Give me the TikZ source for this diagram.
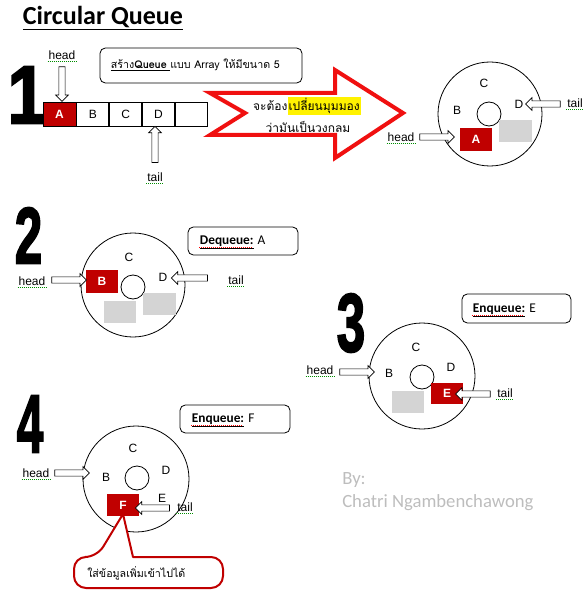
\documentclass[tikz,border=0pt]{standalone}
\usepackage{fontspec}
\usepackage{graphicx}
\setmainfont{Liberation Sans}
\newfontfamily\thaifont[Script=Thai]{Loma}
\newfontfamily\calfont{Carlito}
\newfontfamily\bignum[UprightFont={* Bold}, FakeBold=2.5]{Liberation Sans}
\usetikzlibrary{shapes.arrows}
\definecolor{dred}{HTML}{C00000}
\definecolor{slotgray}{HTML}{D4D4D4}
\definecolor{bygray}{HTML}{BDBDBD}
\definecolor{bigred}{HTML}{F01010}
\tikzset{
  lbl/.style={font=\fontsize{9}{10}\selectfont, inner sep=0.5pt},
  hollow/.style={single arrow, draw, fill=white, line width=0.5pt, inner sep=2.1pt,
    single arrow head extend=2.4pt, single arrow head indent=0pt, minimum height=#1},
  ring/.style={circle, draw, line width=0.6pt, minimum size=#1, inner sep=0pt},
  slot/.style={rectangle, fill=dred, text=white, font=\bfseries\fontsize{9}{10}\selectfont,
    minimum width=24pt, minimum height=17pt, inner sep=0pt},
  freeslot/.style={rectangle, fill=slotgray, minimum width=24.5pt, minimum height=16.5pt, inner sep=0pt},
  cell/.style={rectangle, draw, line width=0.6pt, minimum width=24pt, minimum height=18pt, inner sep=0pt,
    font=\fontsize{9}{10}\selectfont},
  note/.style={rectangle, draw, rounded corners=4pt, line width=0.6pt, inner sep=0pt},
  notetext/.style={font=\calfont\fontsize{10}{12}\selectfont, inner sep=0.5pt, anchor=base west},
  bignumber/.style={inner sep=0pt},
  sqg/.style={densely dotted, line width=0.5pt, green!55!black},
  sqr/.style={densely dotted, line width=0.5pt, red},
}
\begin{document}
\begin{tikzpicture}[x=0.75pt,y=-0.75pt]
\useasboundingbox (0,0) rectangle (588,599);

% title
\node[inner sep=0pt, font=\calfont\bfseries\fontsize{19.5}{22}\selectfont] (title) at (103,18) {\underline{Circular Queue}};

% big numbers
\node[bignumber] (n1) at (27,95) {\scalebox{0.85}[1]{\bignum\fontsize{62}{62}\selectfont 1}};
\node[bignumber] (n2) at (28.5,235.5) {\scalebox{0.62}[1]{\bignum\fontsize{60}{60}\selectfont 2}};
\node[bignumber] (n3) at (351,323) {\scalebox{0.62}[1]{\bignum\fontsize{62}{62}\selectfont 3}};
\node[bignumber] (n4) at (30,424) {\scalebox{0.58}[1]{\bignum\fontsize{62}{62}\selectfont 4}};

% ===== Panel 1: array =====
\node[cell, fill=dred, text=white, font=\bfseries\fontsize{9}{10}\selectfont, minimum width=24.75pt] (ca) at (59.5,114) {A};
\node[cell, anchor=west] (cb) at (ca.east) {B};
\node[cell, anchor=west] (cc) at (cb.east) {C};
\node[cell, anchor=west] (cd) at (cc.east) {D};
\node[cell, anchor=west] (ce) at (cd.east) {};

\node[hollow=26pt, shape border rotate=270] (ah1) at (62,82.5) {};
\node[lbl] (h1) at (62,55) {head};
\node[hollow=27pt, shape border rotate=90] (at1) at (155,146) {};
\node[lbl] (t1) at (155,177) {tail};

\node[note, minimum width=151.5pt, minimum height=26.25pt] (box1) at (201,65.5) {};
\node[inner sep=0.5pt, anchor=west, font=\thaifont\fontsize{8}{10}\selectfont] (box1t) at (110,65) {\underline{สร้าง\textbf{Queue} }แบบ Array ให้มีขนาด 5};

% big red arrow
\coordinate (ra1) at (210,93);
\coordinate (ra2) at (335,93);
\coordinate (ra3) at (335,70);
\coordinate (ra4) at (403,113);
\coordinate (ra5) at (335,158);
\coordinate (ra6) at (335,135);
\coordinate (ra7) at (210,135);
\coordinate (ra8) at (245,113);
\draw[bigred, line width=3pt, fill=white, miter limit=10] (ra1) -- (ra2) -- (ra3) -- (ra4) -- (ra5) -- (ra6) -- (ra7) -- (ra8) -- cycle;
\node[inner sep=0pt, font=\thaifont\fontsize{9}{11}\selectfont] (rat1) at (307,106) {จะต้อง{\setlength{\fboxsep}{0.8pt}\colorbox{yellow}{เปลี่ยนมุมมอง}}};
\node[inner sep=0pt, font=\thaifont\fontsize{9}{11}\selectfont] (rat2) at (308,127) {ว่ามันเป็นวงกลม};

% circle 1
\node[ring=78pt] (c1) at (490,114) {};
\node[ring=18pt] (c1i) at (489,114) {};
\node[lbl] (c1C) at (484,83) {C};
\node[lbl] (c1B) at (457,110) {B};
\node[lbl] (c1D) at (519,104) {D};
\node[slot] (c1A) at (476,139.5) {A};
\node[freeslot, minimum height=16.5pt] (c1g) at (515.5,131) {};
\node[hollow=26pt, shape border rotate=180] (at2) at (544.5,104) {};
\node[lbl] (t2) at (575,103) {tail};
\node[hollow=26pt] (ah2) at (435.5,137) {};
\node[lbl] (h2) at (401,137) {head};

% ===== Panel 2 =====
\node[ring=78pt] (c2) at (133,285) {};
\node[ring=18pt] (c2i) at (133,287) {};
\node[lbl] (c2C) at (129,257) {C};
\node[lbl] (c2D) at (163,277) {D};
\node[slot] (c2B) at (102,281.5) {B};
\node[freeslot] (c2g1) at (120,312) {};
\node[freeslot] (c2g2) at (159.5,303.5) {};
\node[hollow=26pt] (ah3) at (67.5,280) {};
\node[lbl] (h3) at (32,281) {head};
\node[hollow=27pt, shape border rotate=180] (at3) at (191,278) {};
\node[lbl] (t3) at (236,280) {tail};
\node[note, minimum width=82.5pt, minimum height=21pt] (box2) at (243,241) {};
\node[notetext] (dq) at (199,244.5) {\underline{\textbf{Dequeue:}}};
\node[notetext, anchor=base west] (dqa) at (dq.base east) {\,A};

% ===== Panel 3 =====
\node[ring=79.5pt] (c3) at (422,376) {};
\node[ring=18pt] (c3i) at (422,377) {};
\node[lbl] (c3C) at (416,347) {C};
\node[lbl] (c3D) at (451,367) {D};
\node[lbl] (c3B) at (389,373) {B};
\node[slot, minimum height=16pt] (c3E) at (447,393.5) {E};
\node[freeslot] (c3g) at (408,402) {};
\node[hollow=26pt] (ah4) at (355.5,372) {};
\node[lbl] (h4) at (320,370) {head};
\node[hollow=26pt, shape border rotate=180] (at4) at (474.5,394) {};
\node[lbl] (t4) at (505,393) {tail};
\node[note, minimum width=81.75pt, minimum height=21.75pt] (box3) at (516.5,308.5) {};
\node[notetext] (eq1) at (472,312) {\underline{\textbf{Enqueue:}}};
\node[notetext, anchor=base west] (eq1a) at (eq1.base east) {\,E};

% ===== Panel 4 =====
\node[ring=79.5pt] (c4) at (136,479) {};
\node[ring=18pt] (c4i) at (137,478) {};
\node[lbl] (c4C) at (133,448) {C};
\node[lbl] (c4D) at (166,470) {D};
\node[lbl] (c4B) at (106,477) {B};
\node[lbl] (c4E) at (162,498) {E};
\node[hollow=26pt] (ah5) at (70.5,473) {};
\node[lbl] (h5) at (36,473) {head};
\node[note, minimum width=82.5pt, minimum height=21pt] (box4) at (235,419) {};
\node[notetext] (eq2) at (191,422.5) {\underline{\textbf{Enqueue:}}};
\node[notetext, anchor=base west] (eq2a) at (eq2.base east) {\,F};

% callout
\coordinate (cl1) at (97,557);
\coordinate (cltip) at (123,514);
\coordinate (cl2) at (133,557);
\coordinate (cl3) at (223,557);
\coordinate (cl4) at (223,588);
\coordinate (cl5) at (74,588);
\coordinate (cl6) at (74,557);
\draw[dred, line width=1.5pt, fill=white, line join=round] (cl1) [sharp corners] -- (cltip) -- (cl2) [rounded corners=9pt] -- (cl3) -- (cl4) -- (cl5) -- (cl6) -- cycle;
\node[inner sep=0pt, anchor=west, font=\thaifont\fontsize{8}{10}\selectfont] (clt) at (87,573) {ใส่ข้อมูลเพิ่มเข้าไปได้};

\node[slot, minimum height=16.5pt] (c4F) at (123,505) {F};
\node[hollow=25.5pt, shape border rotate=180] (at5) at (154,508) {};
\node[lbl] (t5) at (185,507) {tail};

% author
\node[inner sep=0pt, anchor=west, text=bygray, font=\calfont\fontsize{14}{16}\selectfont] (by) at (342,480) {By:};
\node[inner sep=0pt, anchor=west, text=bygray, font=\calfont\fontsize{14}{16}\selectfont] (auth) at (342,503) {Chatri Ngambenchawong};

% spell-check marks
\foreach \n in {h1,t1,h2,t2,h3,t3,h4,t4,h5,t5}
  \draw[sqg] ([yshift=-1.6pt]\n.base west) -- ([yshift=-1.6pt]\n.base east);
\foreach \n in {dq,eq1,eq2}
  \draw[sqr] ([yshift=-2.2pt]\n.base west) -- ([yshift=-2.2pt,xshift=-2pt]\n.base east);
\end{tikzpicture}
\end{document}
